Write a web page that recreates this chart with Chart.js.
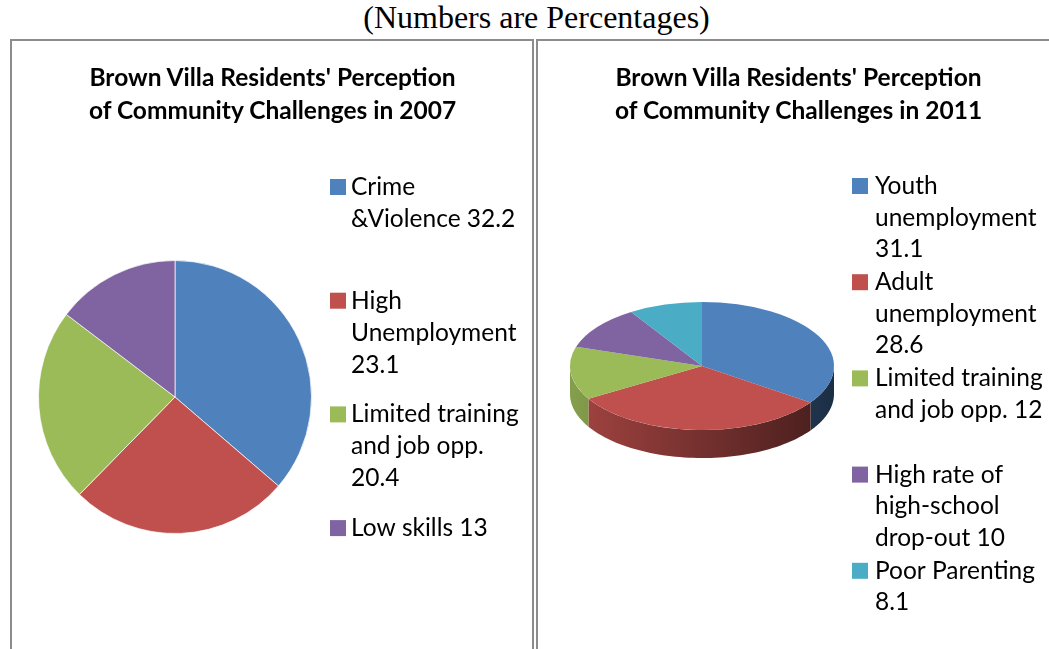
<!DOCTYPE html>
<html>
<head>
<meta charset="utf-8">
<script src="https://cdn.jsdelivr.net/npm/chart.js@4.4.0/dist/chart.umd.min.js"></script>
<style>
  html, body { margin:0; padding:0; background:#fff; overflow:hidden; }
  body { width:1049px; height:649px; position:relative; }
  #heading { position:absolute; left:0; top:-1px; width:1073px; text-align:center; line-height:37px;
             font-family:"Liberation Serif","Times New Roman",serif; font-size:32px; color:#000; }
  .panel { position:absolute; top:39px; height:640px; border-top:2px solid #8c8c8c; border-left:2px solid #8c8c8c; }
  #p1 { left:10px; width:520px; border-right:2px solid #8c8c8c; }
  #p2 { left:536px; width:600px; }
  canvas { position:absolute; }
  #c1 { left:13px; top:41px; }
  #c2 { left:539px; top:41px; }
  .ctitle { position:absolute; top:60px; width:519px; text-align:center; line-height:33px;
            font-family:Lato, sans-serif; font-weight:bold; font-size:24.5px; color:#000; }
  #t1 { left:13px; }
  #t2 { left:539px; }
</style>
</head>
<body>
<div id="heading">(Numbers are Percentages)</div>
<div class="panel" id="p1"></div>
<div class="panel" id="p2"></div>
<canvas id="c1" width="519" height="608"></canvas>
<canvas id="c2" width="519" height="608"></canvas>
<div class="ctitle" id="t1">Brown Villa Residents' Perception<br>of Community Challenges in 2007</div>
<div class="ctitle" id="t2">Brown Villa Residents' Perception<br>of Community Challenges in 2011</div>
<script>
// 2007 survey
const labels2007 = [["Crime", "&Violence 32.2"], ["High", "Unemployment", "23.1"], ["Limited training", "and job opp.", "20.4"], ["Low skills 13"]];
const values2007 = [32.2, 23.1, 20.4, 13];

// 2011 survey
const labels2011 = [["Youth", "unemployment", "31.1"], ["Adult", "unemployment", "28.6"], ["Limited training", "and job opp. 12"], ["High rate of", "high-school", "drop-out 10"], ["Poor Parenting", "8.1"]];
const values2011 = [31.1, 28.6, 12, 10, 8.1];

const officeColors = ["#4F81BD", "#C0504D", "#9BBB59", "#8064A2", "#4BACC6"];

function shade(hex, f){
  const n = parseInt(hex.slice(1), 16);
  const r = Math.round(((n >> 16) & 255) * f), g = Math.round(((n >> 8) & 255) * f), b = Math.round((n & 255) * f);
  return `rgb(${r},${g},${b})`;
}

// legend with multi-line entries, drawn at fixed spots like the Excel original
const sideLegend = {
  id: "sideLegend",
  afterDraw(chart, args, o){
    const ctx = chart.ctx;
    const colors = chart.data.datasets[0].backgroundColor;
    ctx.save();
    ctx.font = "24.5px Lato";
    ctx.textBaseline = "middle";
    chart.data.labels.forEach((lines, i)=>{
      const y0 = o.top + i * o.step;
      ctx.fillStyle = colors[i];
      ctx.fillRect(o.boxX, y0 - 8, 16, 16);
      ctx.fillStyle = "#000";
      lines.forEach((ln, j)=> ctx.fillText(ln, o.textX, y0 + j * o.lineH));
    });
    ctx.restore();
  }
};

// fake 3D: draw the rim, then squash the pie vertically
const pie3d = {
  id: "pie3d",
  beforeDatasetsDraw(chart, args, o){
    if(!o.on) return;
    const ctx = chart.ctx;
    const arcs = chart.getDatasetMeta(0).data;
    const cx = arcs[0].x, cy = arcs[0].y, r = arcs[0].outerRadius;
    const colors = chart.data.datasets[0].backgroundColor;
    arcs.forEach((arc, i)=>{
      const a = Math.max(arc.startAngle, 0), b = Math.min(arc.endAngle, Math.PI);
      if(b <= a) return;
      const grad = ctx.createLinearGradient(cx - r, 0, cx + r, 0);
      grad.addColorStop(0, shade(colors[i], 0.85));
      grad.addColorStop(1, shade(colors[i], 0.36));
      ctx.beginPath();
      const steps = 60;
      for(let s = 0; s <= steps; s++){
        const t = a + (b - a) * s / steps;
        ctx.lineTo(cx + r * Math.cos(t), cy + o.k * r * Math.sin(t));
      }
      for(let s = steps; s >= 0; s--){
        const t = a + (b - a) * s / steps;
        ctx.lineTo(cx + r * Math.cos(t), cy + o.k * r * Math.sin(t) + o.depth);
      }
      ctx.closePath();
      ctx.fillStyle = grad;
      ctx.fill();
    });
    ctx.save();
    ctx.translate(0, cy);
    ctx.scale(1, o.k);
    ctx.translate(0, -cy);
  },
  afterDatasetsDraw(chart, args, o){
    if(o.on) chart.ctx.restore();
  }
};

new Chart(document.getElementById("c1"), {
  type: "pie",
  data: {
    labels: labels2007,
    datasets: [{
      data: values2007,
      backgroundColor: officeColors.slice(0, values2007.length),
      borderColor: "rgba(255,255,255,0.7)",
      borderWidth: 1,
      hoverOffset: 0
    }]
  },
  plugins: [sideLegend, pie3d],
  options: {
    responsive: false,
    animation: false,
    layout: {padding: {left: 25, right: 220, top: 219, bottom: 115}},
    plugins: {
      legend: {display: false},
      tooltip: {enabled: false},
      title: {display: false},
      sideLegend: {boxX: 317, textX: 338, top: 146, step: 113.7, lineH: 32},
      pie3d: {on: false}
    }
  }
});

new Chart(document.getElementById("c2"), {
  type: "pie",
  data: {
    labels: labels2011,
    datasets: [{
      data: values2011,
      backgroundColor: officeColors.slice(0, values2011.length),
      borderWidth: 0,
      hoverOffset: 0
    }]
  },
  plugins: [sideLegend, pie3d],
  options: {
    responsive: false,
    animation: false,
    layout: {padding: {left: 31, right: 224, top: 193, bottom: 151}},
    plugins: {
      legend: {display: false},
      tooltip: {enabled: false},
      title: {display: false},
      sideLegend: {boxX: 313, textX: 336, top: 145, step: 96.2, lineH: 31.6},
      pie3d: {on: true, k: 0.485, depth: 28}
    }
  }
});
</script>
</body>
</html>
